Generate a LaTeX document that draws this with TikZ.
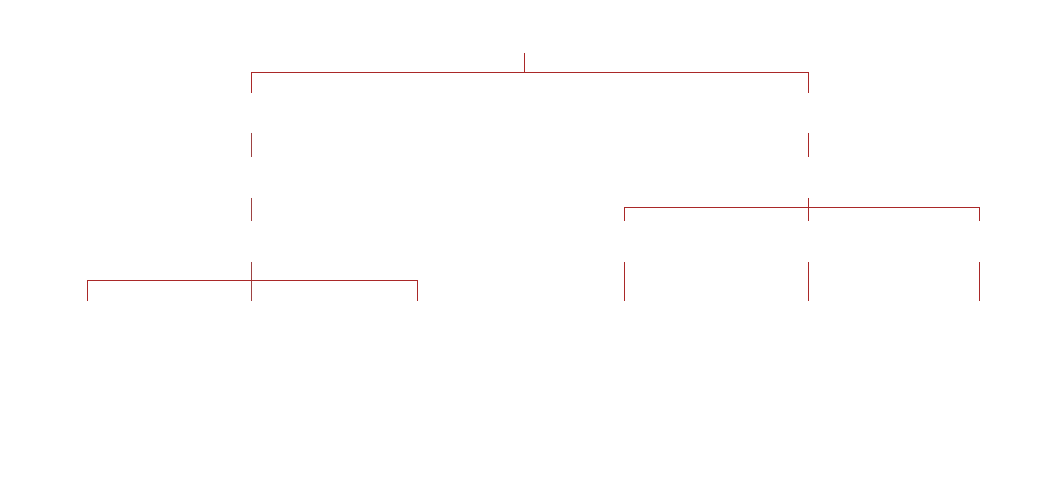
\documentclass[tikz,border=0pt]{standalone}
\usetikzlibrary{positioning}
\definecolor{treered}{RGB}{170,40,40}
\begin{document}
\begin{tikzpicture}[x=0.02cm,y=-0.02cm,
    link/.style={treered, line width=0.45pt},
    stub/.style={treered!70!gray, line width=0.3pt}]
  \useasboundingbox (0,0) rectangle (1061,493);
  % root level
  \coordinate (rt) at (524,53);
  \coordinate (rb) at (524,72);
  \coordinate (la) at (251,72);
  \coordinate (ra) at (808,72);
  \coordinate (lb) at (251,93);
  \coordinate (rbb) at (808,93);
  \draw[link] (rt) -- (rb);
  \draw[link] (lb) -- (la) -- (ra) -- (rbb);
  % second level
  \coordinate (l2t) at (251,133);
  \coordinate (l2b) at (251,157);
  \coordinate (r2t) at (808,133);
  \coordinate (r2b) at (808,157);
  \draw[stub] (l2t) -- (l2b);
  \draw[link] (r2t) -- (r2b);
  % third level
  \coordinate (l3t) at (251,198);
  \coordinate (l3b) at (251,221);
  \coordinate (r3t) at (808,198);
  \coordinate (r3b) at (808,221);
  \coordinate (rl) at (624,207);
  \coordinate (rr) at (979,207);
  \coordinate (rlb) at (624,221);
  \coordinate (rrb) at (979,221);
  \draw[stub] (l3t) -- (l3b);
  \draw[link] (r3t) -- (r3b);
  \draw[link] (rlb) -- (rl) -- (rr) -- (rrb);
  % leaves
  \coordinate (l4t) at (251,262);
  \coordinate (l4b) at (251,301);
  \coordinate (ll) at (87,280);
  \coordinate (lr) at (417,280);
  \coordinate (llb) at (87,301);
  \coordinate (lrb) at (417,301);
  \draw[stub] (l4t) -- (l4b);
  \draw[link] (llb) -- (ll) -- (lr) -- (lrb);
  \foreach \x/\n in {624/a,808/b,979/c}{
    \coordinate (t\n) at (\x,262);
    \coordinate (b\n) at (\x,301);
    \draw[link] (t\n) -- (b\n);
  }
\end{tikzpicture}
\end{document}
